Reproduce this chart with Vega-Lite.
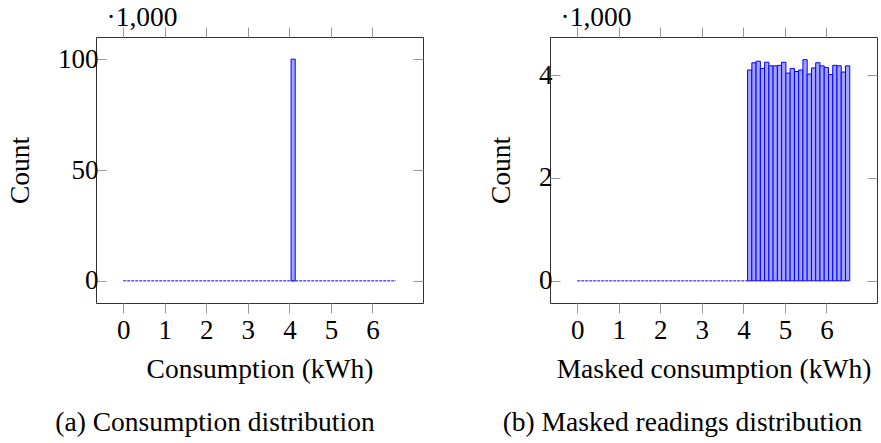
{
  "$schema": "https://vega.github.io/schema/vega-lite/v6.json",
  "padding": {"left": 6, "top": 2, "right": 0, "bottom": 0},
  "background": "white",
  "config": {
    "font": "Liberation Serif",
    "view": {"stroke": "#333333", "strokeWidth": 1},
    "axis": {
      "labelFont": "Liberation Serif", "labelFontSize": 27, "labelColor": "black",
      "titleFont": "Liberation Serif", "titleFontSize": 27.5, "titleColor": "black", "titleFontWeight": "normal",
      "tickColor": "#999999", "tickWidth": 1, "domain": false, "grid": false
    },
    "title": {"font": "Liberation Serif", "fontSize": 27.5, "fontWeight": "normal", "color": "black"}
  },
  "datasets": {
    "leftBars": [{"x": 4.04, "x2": 4.14, "count": 100}],
    "leftZero": [{"x": 0, "x2": 6.56, "count": 0}],
    "rightZero": [{"x": 0, "x2": 4.10, "count": 0}],
    "rightBars": [
      {"x": 4.100, "x2": 4.203, "count": 4.10},
      {"x": 4.203, "x2": 4.305, "count": 4.24},
      {"x": 4.305, "x2": 4.408, "count": 4.27},
      {"x": 4.408, "x2": 4.510, "count": 4.13},
      {"x": 4.510, "x2": 4.613, "count": 4.25},
      {"x": 4.613, "x2": 4.715, "count": 4.18},
      {"x": 4.715, "x2": 4.818, "count": 4.18},
      {"x": 4.818, "x2": 4.920, "count": 4.19},
      {"x": 4.920, "x2": 5.023, "count": 4.25},
      {"x": 5.023, "x2": 5.125, "count": 4.04},
      {"x": 5.125, "x2": 5.228, "count": 4.13},
      {"x": 5.228, "x2": 5.330, "count": 4.07},
      {"x": 5.330, "x2": 5.433, "count": 4.10},
      {"x": 5.433, "x2": 5.535, "count": 4.30},
      {"x": 5.535, "x2": 5.638, "count": 4.02},
      {"x": 5.638, "x2": 5.740, "count": 4.14},
      {"x": 5.740, "x2": 5.843, "count": 4.24},
      {"x": 5.843, "x2": 5.945, "count": 4.18},
      {"x": 5.945, "x2": 6.048, "count": 4.15},
      {"x": 6.048, "x2": 6.150, "count": 4.01},
      {"x": 6.150, "x2": 6.253, "count": 4.19},
      {"x": 6.253, "x2": 6.355, "count": 4.18},
      {"x": 6.355, "x2": 6.458, "count": 4.06},
      {"x": 6.458, "x2": 6.560, "count": 4.18}
    ]
  },
  "spacing": 63,
  "hconcat": [
    {
      "width": 327, "height": 266,
      "title": {"text": "(a) Consumption distribution", "orient": "bottom", "frame": "bounds", "anchor": "middle", "offset": 26},
      "layer": [
        {
          "data": {"name": "leftZero"},
          "mark": {"type": "rule", "color": "#3b3bff", "strokeWidth": 1.5, "strokeDash": [3, 1], "opacity": 0.85},
          "encoding": {
            "x": {"field": "x", "type": "quantitative", "scale": {"domain": [-0.656, 7.216], "nice": false, "zero": false},
                  "axis": {"orient": "bottom", "values": [0, 1, 2, 3, 4, 5, 6], "tickSize": 10, "labelPadding": 4, "title": "Consumption (kWh)", "titlePadding": 12}},
            "x2": {"field": "x2"},
            "y": {"field": "count", "type": "quantitative", "scale": {"domain": [-10, 110], "nice": false, "zero": false},
                  "axis": {"orient": "right", "values": [0, 50, 100], "tickSize": -10, "labels": false, "title": null}}
          }
        },
        {
          "data": {"name": "leftBars"},
          "mark": {"type": "bar", "fill": "#a3a3ff", "stroke": "#0000ff", "strokeWidth": 1},
          "encoding": {
            "x": {"field": "x", "type": "quantitative",
                  "axis": {"orient": "top", "values": [0, 1, 2, 3, 4, 5, 6], "tickSize": 10, "labels": false, "title": "·1,000", "titleAnchor": "start", "titleAlign": "left", "titleX": 10, "titleY": -12, "titleBaseline": "alphabetic"}},
            "x2": {"field": "x2"},
            "y": {"field": "count", "type": "quantitative",
                  "axis": {"orient": "left", "values": [0, 50, 100], "tickSize": -10, "labelPadding": 8, "title": "Count", "titlePadding": 23}},
            "y2": {"datum": 0}
          }
        }
      ]
    },
    {
      "width": 327, "height": 266,
      "title": {"text": "(b) Masked readings distribution", "orient": "bottom", "frame": "bounds", "anchor": "middle", "offset": 26},
      "layer": [
        {
          "data": {"name": "rightZero"},
          "mark": {"type": "rule", "color": "#3b3bff", "strokeWidth": 1.5, "strokeDash": [3, 1], "opacity": 0.85},
          "encoding": {
            "x": {"field": "x", "type": "quantitative", "scale": {"domain": [-0.656, 7.216], "nice": false, "zero": false},
                  "axis": {"orient": "bottom", "values": [0, 1, 2, 3, 4, 5, 6], "tickSize": 10, "labelPadding": 4, "title": "Masked consumption (kWh)", "titlePadding": 12}},
            "x2": {"field": "x2"},
            "y": {"field": "count", "type": "quantitative", "scale": {"domain": [-0.431, 4.741], "nice": false, "zero": false},
                  "axis": {"orient": "right", "values": [0, 2, 4], "tickSize": -10, "labels": false, "title": null}}
          }
        },
        {
          "data": {"name": "rightBars"},
          "mark": {"type": "bar", "fill": "#a3a3ff", "stroke": "#0000ff", "strokeWidth": 1},
          "encoding": {
            "x": {"field": "x", "type": "quantitative",
                  "axis": {"orient": "top", "values": [0, 1, 2, 3, 4, 5, 6], "tickSize": 10, "labels": false, "title": "·1,000", "titleAnchor": "start", "titleAlign": "left", "titleX": 10, "titleY": -12, "titleBaseline": "alphabetic"}},
            "x2": {"field": "x2"},
            "y": {"field": "count", "type": "quantitative",
                  "axis": {"orient": "left", "values": [0, 2, 4], "tickSize": -10, "labelPadding": 8, "title": "Count", "titlePadding": 23}},
            "y2": {"datum": 0}
          }
        }
      ]
    }
  ]
}
